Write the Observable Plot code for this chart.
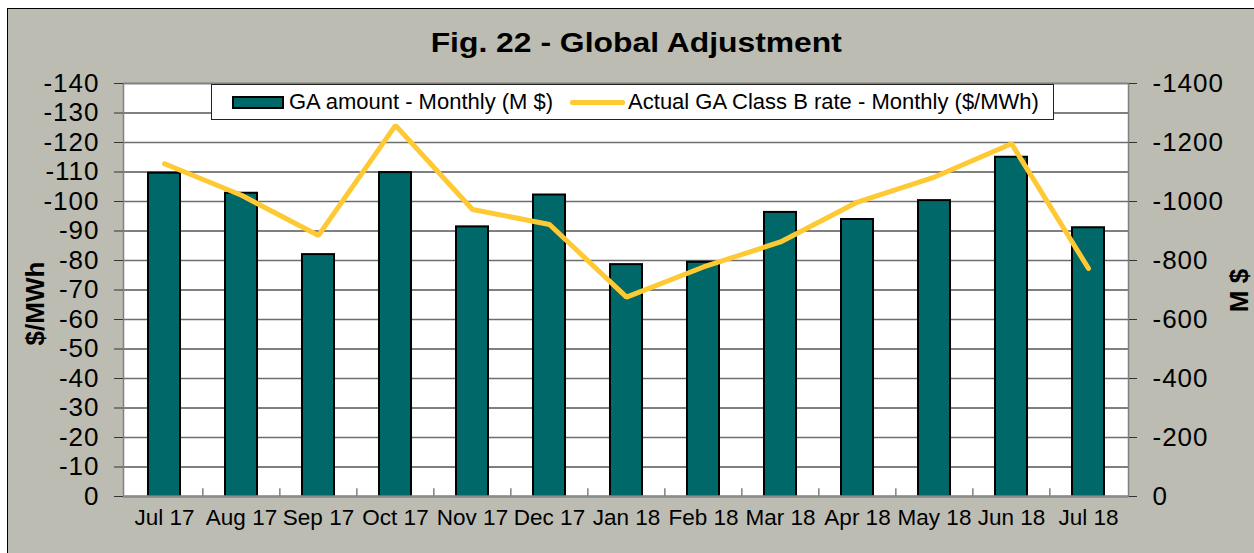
<!DOCTYPE html>
<html>
<head>
<meta charset="utf-8">
<script src="https://cdn.jsdelivr.net/npm/d3@7"></script>
<script src="https://cdn.jsdelivr.net/npm/@observablehq/plot@0.6"></script>
<style>
  html, body { margin: 0; padding: 0; background: #ffffff; }
  #wrap { position: relative; width: 1254px; height: 553px; overflow: hidden; font-family: Arial, "Liberation Sans", sans-serif; }
  #panel { position: absolute; left: 7px; top: 8px; width: 1270px; height: 570px; background: #bcbcb2; border-left: 1.5px solid #000; border-top: 1.5px solid #000; }
  #title { position: absolute; left: 0; width: 1272px; top: 28px; text-align: center; }
  #title span { display: inline-block; font-weight: bold; font-size: 27px; color: #000; transform: scaleX(1.18); transform-origin: center center; }
  #chart { position: absolute; left: 0; top: 0; }
  #legend { position: absolute; left: 211px; top: 84px; width: 843px; height: 36px; background: #fff; border: 1px solid #222; display: flex; align-items: center; font-size: 22px; color: #000; box-sizing: border-box; padding-left: 20px; white-space: nowrap; }
  .sw-bar { width: 48px; height: 9px; background: #006868; border: 2px solid #000; margin-right: 5px; }
  .sw-line { width: 55px; height: 5px; background: #ffc933; border-radius: 2px; margin-left: 17px; margin-right: 3px; }
  .axt { position: absolute; font-weight: bold; font-size: 26px; white-space: nowrap; transform: rotate(-90deg); transform-origin: center center; }
</style>
</head>
<body>
<div id="wrap">
  <div id="panel"></div>
  <div id="title"><span>Fig. 22 - Global Adjustment</span></div>
  <div id="chart"></div>
  <div id="legend"><div class="sw-bar"></div><span>GA amount - Monthly (M $)</span><div class="sw-line"></div><span>Actual GA Class B rate - Monthly ($/MWh)</span></div>
  <div class="axt" id="ytl">$/MWh</div>
  <div class="axt" id="ytr">M $</div>
</div>
<script>
const months = ["Jul 17","Aug 17","Sep 17","Oct 17","Nov 17","Dec 17","Jan 18","Feb 18","Mar 18","Apr 18","May 18","Jun 18","Jul 18"];
// GA amount - Monthly (M $), plotted against right axis
const gaAmount = [-1096, -1028, -820, -1098, -914, -1022, -786, -794, -963, -939, -1003, -1150, -911];
// Actual GA Class B rate - Monthly ($/MWh), plotted against left axis
const gaRate = [-112.8, -102.1, -88.5, -125.8, -97.3, -92.2, -67.6, -77.8, -86.3, -99.8, -108.3, -119.6, -77.3];
const leftTicks = d3.range(0, -150, -10);
const rightTicks = d3.range(0, -1600, -200);
const rightToLeft = 10; // M $ per $/MWh on the shared scale

const bars = months.map((m, i) => ({month: m, amount: gaAmount[i]}));
const line = months.map((m, i) => ({month: m, rate: gaRate[i]}));

const W = 1254, H = 553, mL = 123, mR = 126, mT = 83, mB = 57;
const halfStep = (W - mL - mR) / months.length / 2;

const chart = Plot.plot({
  width: W, height: H,
  marginLeft: mL, marginRight: mR, marginTop: mT, marginBottom: mB,
  style: {background: "transparent", fontFamily: "Arial, 'Liberation Sans', sans-serif", color: "#000", overflow: "visible"},
  x: {domain: months, paddingInner: 0.585, paddingOuter: 0.2925, align: 0.5, label: null},
  y: {domain: [0, -140], label: null},
  marks: [
    Plot.frame({fill: "#ffffff", stroke: null}),
    Plot.ruleY(leftTicks.filter(d => d !== 0 && (d / 10) % 2 !== 0), {stroke: "#000", strokeWidth: 1}),
    Plot.ruleY(leftTicks.filter(d => d !== 0 && (d / 10) % 2 === 0), {stroke: "#6e6e6e", strokeWidth: 1.3}),
    Plot.barY(bars, {x: "month", y: d => d.amount / rightToLeft, fill: "#006868", stroke: "#000", strokeWidth: 2}),
    Plot.frame({stroke: "#808080", strokeWidth: 1.5}),
    Plot.ruleY([0], {stroke: "#8a8a8a", strokeWidth: 2.5}),
    Plot.ruleX(months.slice(1), {x: d => d, y1: 0, y2: -2.6, dx: -halfStep, stroke: "#808080", strokeWidth: 1.5}),
    Plot.line(line, {x: "month", y: "rate", stroke: "#ffc933", strokeWidth: 5, strokeLinejoin: "miter"}),
    Plot.axisY({anchor: "left", ticks: leftTicks, tickFormat: d => String(d), tickSize: 9, tickPadding: 15, fontSize: 26, stroke: "#333", label: null}),
    Plot.axisY({anchor: "right", ticks: rightTicks.map(d => d / rightToLeft), tickFormat: d => String(Math.round(d * rightToLeft)), tickSize: 8, tickPadding: 16, fontSize: 26, stroke: "#333", label: null}),
    Plot.axisX({anchor: "bottom", tickSize: 0, tickPadding: 13, fontSize: 22.5, label: null})
  ]
});
d3.select(chart).selectAll("g[aria-label='y-axis tick label'] text").style("letter-spacing", "1px");
document.getElementById("chart").appendChild(chart);

const l = document.getElementById("ytl");
l.style.left = (36 - l.offsetWidth / 2) + "px";
l.style.top = (303 - l.offsetHeight / 2) + "px";
const r = document.getElementById("ytr");
r.style.left = (1239 - r.offsetWidth / 2) + "px";
r.style.top = (290 - r.offsetHeight / 2) + "px";
</script>
</body>
</html>
